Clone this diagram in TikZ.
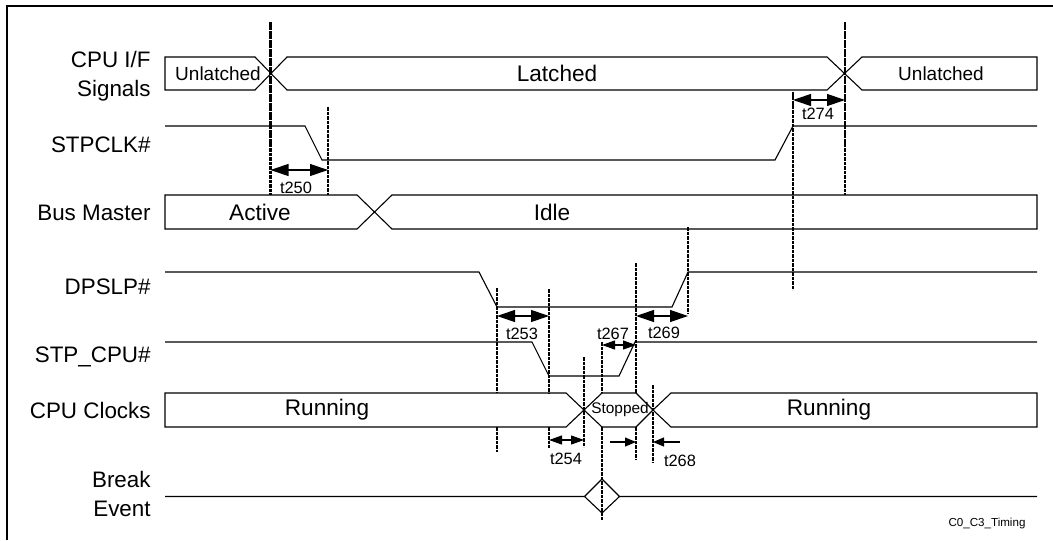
\documentclass[tikz,border=0pt]{standalone}
\usepackage{fontspec}
\setmainfont{Liberation Sans}
\usetikzlibrary{arrows.meta}
\tikzset{
  siglabel/.style={anchor=east, align=right, inner sep=0pt,
                   font=\fontsize{11.2}{14.5}\selectfont},
  wave/.style={line width=0.55pt, black, line join=miter},
  marker/.style={line width=1.15pt, dash pattern=on 1.8pt off 0.45pt},
  bigdim/.style={{Triangle[length=9pt,width=6pt]}-{Triangle[length=9pt,width=6pt]},
                 line width=0.55pt},
  smalldim/.style={{Triangle[length=6.5pt,width=4.5pt]}-{Triangle[length=6.5pt,width=4.5pt]},
                   line width=0.55pt},
  pointer/.style={-{Triangle[length=5.5pt,width=4.5pt]}, line width=0.55pt},
  tlabel/.style={inner sep=0pt, font=\fontsize{8.2}{9}\selectfont},
  statetext/.style={inner sep=0pt, font=\fontsize{11.3}{13}\selectfont},
  smallstate/.style={inner sep=0pt, font=\fontsize{9.5}{11}\selectfont},
}

\begin{document}
\begin{tikzpicture}[x=0.5pt,y=-0.5pt]
  \useasboundingbox (0,0) rectangle (1053,540);
  \draw[line width=1.1pt] (7,540) -- (7,6) -- (1053,6);

  % signal names
  \node[siglabel] (lcpuif)  at (151,76)  {CPU I/F\\Signals};
  \node[siglabel] (lstpclk) at (151,145) {STPCLK\#};
  \node[siglabel] (lbus)    at (151,213) {Bus Master};
  \node[siglabel] (ldpslp)  at (151,287) {DPSLP\#};
  \node[siglabel] (lstpcpu) at (151,357) {STP\_CPU\#};
  \node[siglabel] (lclk)    at (151,410) {CPU Clocks};
  \node[siglabel] (lbrk)    at (151,494) {Break\\Event};

  % CPU I/F signals
  \draw[wave] (165,57) -- (255,57) -- (271,73.5) -- (255,90) -- (165,90) -- cycle;
  \draw[wave] (271,73.5) -- (287,57) -- (827,57) -- (844.5,73.5) -- (827,90) -- (287,90) -- cycle;
  \draw[wave] (844.5,73.5) -- (862,57) -- (1037,57) -- (1037,90) -- (862,90) -- cycle;
  \node[smallstate] (ifunl1) at (218,73.5) {Unlatched};
  \node[statetext]  (iflat)  at (557,73.5) {Latched};
  \node[smallstate] (ifunl2) at (941,73.5) {Unlatched};

  % STPCLK#
  \draw[wave] (165,126) -- (305,126) -- (322,160) -- (775,160) -- (793,126) -- (1037,126);

  % Bus Master
  \draw[wave] (165,195) -- (357,195) -- (374.5,212) -- (357,229) -- (165,229) -- cycle;
  \draw[wave] (374.5,212) -- (392,195) -- (1037,195) -- (1037,229) -- (392,229) -- cycle;
  \node[statetext] (bmact)  at (260,212) {Active};
  \node[statetext] (bmidle) at (552,212) {Idle};

  % DPSLP# and STP_CPU#
  \draw[wave] (165,272) -- (479,272) -- (497,307) -- (672,307) -- (688,272) -- (1037,272);
  \draw[wave] (165,342) -- (532,342) -- (549,376) -- (619,376) -- (635,342) -- (1037,342);

  % CPU Clocks
  \draw[wave] (165,393) -- (566,393) -- (584,410) -- (566,427) -- (165,427) -- cycle;
  \draw[wave] (584,410) -- (602,393) -- (636,393) -- (653,410) -- (636,427) -- (602,427) -- cycle;
  \draw[wave] (653,410) -- (671,393) -- (1037,393) -- (1037,427) -- (671,427) -- cycle;
  \node[statetext] (clkrun1) at (327,410) {Running};
  \node[inner sep=0pt, font=\fontsize{7.7}{9}\selectfont] (clkstop) at (620,410) {Stopped};
  \node[statetext] (clkrun2) at (829,410) {Running};

  % Break Event
  \draw[wave] (165,496.5) -- (584.5,496.5) -- (602,479) -- (619.5,496.5) -- (602,513) -- (584.5,496.5)
              (619.5,496.5) -- (1037,496.5);

  % timing markers
  \draw[marker] (270.5,22) -- (270.5,195);
  \draw[marker] (328,107) -- (328,195);
  \draw[marker] (845,22) -- (845,195);
  \draw[marker] (793,92) -- (793,290);
  \draw[marker] (497,288) -- (497,393) (497,427) -- (497,452);
  \draw[marker] (549,289) -- (549,393) (549,427) -- (549,448);
  \draw[marker] (584,357) -- (584,447);
  \draw[marker] (602,342) -- (602,393) (602,427) -- (602,520);
  \draw[marker] (636,263) -- (636,393) (636,427) -- (636,460);
  \draw[marker] (653,385) -- (653,462);
  \draw[marker] (688,227) -- (688,313);

  % timing parameters
  \coordinate (a250) at (270.5,170); \coordinate (b250) at (328,170);
  \coordinate (a274) at (793,100);   \coordinate (b274) at (845,100);
  \coordinate (a253) at (497,316);   \coordinate (b253) at (549,316);
  \coordinate (a269) at (636,316);   \coordinate (b269) at (688,316);
  \coordinate (a267) at (602,345);   \coordinate (b267) at (636,345);
  \coordinate (a254) at (549,440);   \coordinate (b254) at (584,440);
  \coordinate (a268) at (610,442);   \coordinate (b268) at (636,442);
  \coordinate (c268) at (680,442);   \coordinate (d268) at (653,442);

  \draw[bigdim] (a250) -- (b250);
  \draw[bigdim] (a274) -- (b274);
  \draw[bigdim] (a253) -- (b253);
  \draw[bigdim] (a269) -- (b269);
  \draw[smalldim] (a267) -- (b267);
  \draw[smalldim] (a254) -- (b254);
  \draw[pointer] (a268) -- (b268);
  \draw[pointer] (c268) -- (d268);

  \node[tlabel] (t250) at (296,188) {t250};
  \node[tlabel] (t274) at (818,114) {t274};
  \node[tlabel] (t253) at (522,334) {t253};
  \node[tlabel] (t267) at (613,334) {t267};
  \node[tlabel] (t269) at (664,333) {t269};
  \node[tlabel] (t254) at (566,459) {t254};
  \node[tlabel] (t268) at (680,461) {t268};

  \node[inner sep=0pt, font=\fontsize{5.8}{7}\selectfont] (figname) at (987,523) {C0\_C3\_Timing};
\end{tikzpicture}
\end{document}
